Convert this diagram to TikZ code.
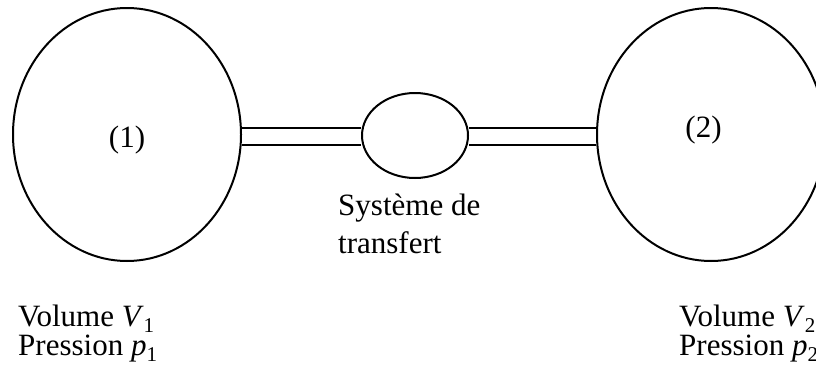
\documentclass[tikz,border=0pt]{standalone}
\usepackage{fontspec}
\setmainfont{Liberation Serif}
\usetikzlibrary{shapes.geometric}
\newcommand{\mysub}[1]{\raisebox{-0.22em}{\fontsize{21}{21}\selectfont #1}}
\tikzset{
  vessel/.style={draw, line width=2pt, ellipse, inner sep=0pt, minimum width=228pt, minimum height=253pt},
  transfer/.style={draw, line width=2pt, ellipse, inner sep=0pt, minimum width=106pt, minimum height=85pt},
  pipe/.style={line width=2pt},
  lbl/.style={inner sep=0pt, anchor=base west, font=\fontsize{31}{31}\selectfont},
  num/.style={inner sep=0pt, anchor=base, font=\fontsize{31}{31}\selectfont}
}
\begin{document}
\begin{tikzpicture}[x=1pt,y=-1pt]
\path[use as bounding box, clip] (0,0) rectangle (816,370);
\node[vessel] (e1) at (127,134.5) {};
\node[vessel] (e2) at (711,134.5) {};
\node[transfer] (tr) at (415,135.5) {};
\draw[pipe] ([yshift=6.5pt]e1.east) -- ([yshift=7.5pt]tr.west);
\draw[pipe] ([yshift=-10.5pt]e1.east) -- ([yshift=-9.5pt]tr.west);
\draw[pipe] ([yshift=7.5pt]tr.east) -- ([yshift=6.5pt]e2.west);
\draw[pipe] ([yshift=-9.5pt]tr.east) -- ([yshift=-10.5pt]e2.west);
\node[num] (l1) at (127,147) {(1)};
\node[num] (l2) at (703.5,137) {(2)};
\node[lbl] (t1) at (338,215) {Système de};
\node[lbl] (t2) at (338,253) {transfert};
\node[lbl] (v1) at (18,326) {Volume \textit{V}\mysub{1}};
\node[lbl] (p1) at (18,355) {Pression \textit{p}\mysub{1}};
\node[lbl] (v2) at (679,326) {Volume \textit{V}\mysub{2}};
\node[lbl] (p2) at (679,355) {Pression \textit{p}\mysub{2}};
\end{tikzpicture}
\end{document}
